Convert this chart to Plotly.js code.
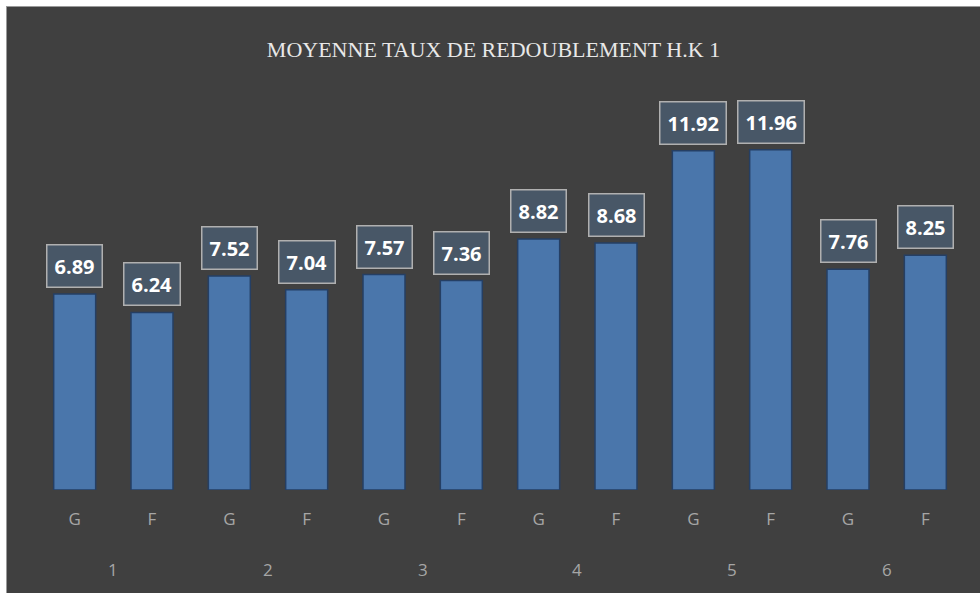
<!DOCTYPE html>
<html>
<head>
<meta charset="utf-8">
<script src="https://cdn.plot.ly/plotly-3.0.1.min.js"></script>
<style>
html,body{margin:0;padding:0;background:#ffffff;width:980px;height:593px;overflow:hidden;}
#wrap{position:absolute;left:6px;top:6px;width:974px;height:587px;border-left:1px solid #9a9a9a;border-top:1px solid #9a9a9a;background:#404040;}
#chart{width:973px;height:586px;}
</style>
</head>
<body>
<div id="wrap"><div id="chart"></div></div>
<script>
// Data
var groups = ['1', '2', '3', '4', '5', '6'];
var sexes = ['G', 'F'];
var valuesG = [6.89, 7.52, 7.57, 8.82, 11.92, 7.76];
var valuesF = [6.24, 7.04, 7.36, 8.68, 11.96, 8.25];

// Build flat series (G then F for each group)
var xIdx = [], yVals = [], tickText = [];
for (var g = 0; g < groups.length; g++) {
  xIdx.push(2 * g); yVals.push(valuesG[g]); tickText.push(sexes[0]);
  xIdx.push(2 * g + 1); yVals.push(valuesF[g]); tickText.push(sexes[1]);
}

var annotations = [];
for (var i = 0; i < xIdx.length; i++) {
  annotations.push({
    x: xIdx[i], y: yVals[i], xref: 'x', yref: 'y',
    text: '<b>' + yVals[i].toFixed(2) + '</b>',
    showarrow: false, yanchor: 'bottom', yshift: 6,
    font: {family: 'Open Sans, Liberation Sans, sans-serif', size: 20, color: '#ffffff'},
    bgcolor: '#485767', bordercolor: '#b0b0b0', borderwidth: 1.5, borderpad: 7
  });
}
for (var g2 = 0; g2 < groups.length; g2++) {
  annotations.push({
    x: 2 * g2 + 0.5, y: -0.195, xref: 'x', yref: 'paper',
    text: groups[g2], showarrow: false, yanchor: 'middle',
    font: {family: 'Open Sans, Liberation Sans, sans-serif', size: 17, color: '#a6a6a6'}
  });
}

var trace = {
  type: 'bar',
  x: xIdx,
  y: yVals,
  marker: {color: '#4a76ab', line: {color: '#253f64', width: 1.5}},
  hoverinfo: 'x+y'
};

var layout = {
  width: 973, height: 586,
  paper_bgcolor: '#404040', plot_bgcolor: '#404040',
  margin: {l: 29, r: 16, t: 73, b: 103},
  bargap: 0.457,
  showlegend: false,
  title: {
    text: 'MOYENNE TAUX DE REDOUBLEMENT H.K 1',
    font: {family: 'Liberation Serif, DejaVu Serif, serif', size: 22, color: '#e8e8e8'},
    x: 0.5, xanchor: 'center', y: 1 - 42 / 586, yref: 'container', yanchor: 'middle'
  },
  xaxis: {
    range: [-0.5, 11.5],
    tickmode: 'array', tickvals: xIdx, ticktext: tickText,
    ticks: 'outside', ticklen: 14, tickcolor: 'rgba(0,0,0,0)',
    tickfont: {family: 'Open Sans, Liberation Sans, sans-serif', size: 17, color: '#a6a6a6'},
    showgrid: false, zeroline: false, showline: false, fixedrange: true
  },
  yaxis: {
    range: [0, 14.41],
    visible: false, showgrid: false, zeroline: false, fixedrange: true
  },
  annotations: annotations
};

Plotly.newPlot('chart', [trace], layout, {displayModeBar: false, staticPlot: true});
</script>
</body>
</html>
